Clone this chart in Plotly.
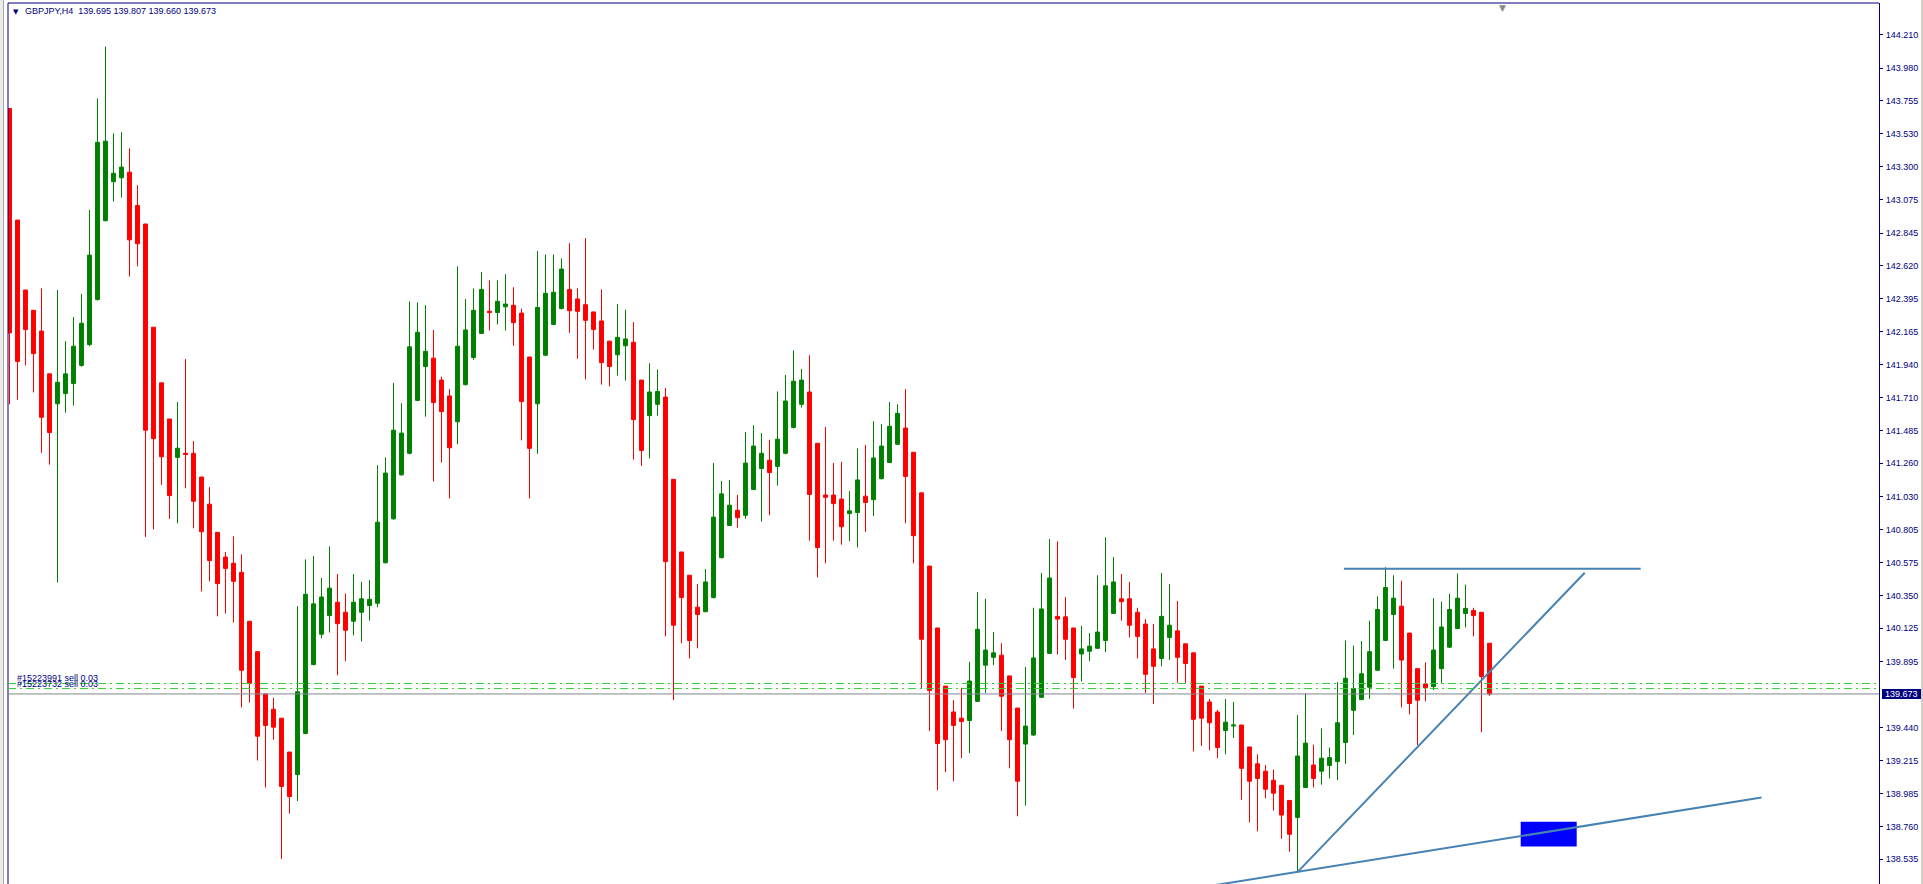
import plotly.graph_objects as go

# ---------------- data (GBPJPY, H4) ----------------
bar_index = list(range(186))

open_ = [143.702, 142.934, 142.453, 142.313, 142.170, 141.876, 141.670, 141.740, 141.810, 141.934,
         142.077, 142.387, 142.930, 143.198, 143.225, 143.264, 143.035, 142.907, 142.197, 141.814,
         141.565, 141.301, 141.329, 141.329, 141.166, 140.979, 140.785, 140.615, 140.572, 140.510,
         140.173, 139.964, 139.673, 139.568, 139.506, 139.273, 139.118, 139.401, 139.875, 140.084,
         140.212, 140.304, 140.235, 140.173, 140.235, 140.281, 140.297, 140.576, 140.878, 141.181,
         141.329, 141.693, 141.926, 141.984, 141.833, 141.724, 141.546, 141.802, 141.988, 142.154,
         142.306, 142.298, 142.337, 142.348, 142.294, 141.992, 141.670, 142.004, 142.216, 142.325,
         142.457, 142.391, 142.352, 142.302, 142.240, 142.101, 142.007, 142.069, 142.093, 141.833,
         141.588, 141.666, 141.716, 141.150, 140.650, 140.490, 140.270, 140.239, 140.336, 140.611,
         140.832, 140.937, 140.902, 141.080, 141.224, 141.282, 141.239, 141.329, 141.507, 141.666,
         141.751, 141.398, 141.042, 141.042, 141.014, 140.914, 140.921, 141.034, 141.010, 141.154,
         141.266, 141.391, 141.503, 141.336, 141.057, 140.553, 140.127, 139.727, 139.549, 139.506,
         139.490, 139.622, 139.871, 139.925, 139.940, 139.797, 139.576, 139.328, 139.390, 139.650,
         139.952, 140.207, 140.204, 140.127, 139.948, 139.967, 139.987, 140.041, 140.227, 140.328,
         140.328, 140.235, 140.154, 139.983, 139.917, 140.061, 140.107, 140.018, 139.956, 139.727,
         139.618, 139.549, 139.421, 139.452, 139.459, 139.308, 139.192, 139.141, 139.079, 139.044,
         138.940, 138.823, 139.029, 139.184, 139.141, 139.180, 139.207, 139.339, 139.560, 139.634,
         139.719, 139.836, 140.041, 140.220, 140.277, 140.092, 139.847, 139.742, 139.723, 139.847,
         139.995, 140.123, 140.227, 140.247, 140.235, 140.022]

high = [143.702, 142.934, 142.453, 142.313, 142.464, 141.876, 142.453, 142.101, 142.267, 142.426,
        143.004, 143.771, 144.128, 143.531, 143.539, 143.427, 143.174, 142.907, 142.197, 141.814,
        141.565, 141.682, 141.977, 141.414, 141.166, 141.096, 140.785, 140.650, 140.758, 140.634,
        140.173, 139.964, 139.673, 139.646, 139.506, 139.273, 140.277, 140.599, 140.622, 140.471,
        140.688, 140.498, 140.363, 140.498, 140.444, 140.456, 141.247, 141.301, 141.814, 141.674,
        142.375, 142.368, 142.348, 142.178, 141.856, 141.771, 142.616, 142.391, 142.464, 142.577,
        142.519, 142.519, 142.562, 142.472, 142.325, 141.992, 142.721, 142.697, 142.697, 142.670,
        142.775, 142.464, 142.810, 142.302, 142.457, 142.101, 142.356, 142.317, 142.232, 141.833,
        141.949, 141.906, 141.778, 141.150, 140.650, 140.490, 140.429, 140.533, 141.262, 141.139,
        141.146, 141.042, 141.476, 141.522, 141.468, 141.422, 141.755, 141.868, 142.038, 141.910,
        142.004, 141.398, 141.511, 141.262, 141.270, 141.069, 141.363, 141.387, 141.550, 141.530,
        141.682, 141.666, 141.771, 141.336, 141.057, 140.553, 140.127, 139.727, 139.630, 139.715,
        139.894, 140.374, 140.328, 140.099, 140.022, 139.797, 139.576, 139.859, 140.266, 140.506,
        140.739, 140.724, 140.340, 140.127, 140.142, 140.092, 140.490, 140.751, 140.615, 140.498,
        140.444, 140.266, 140.188, 140.154, 140.506, 140.429, 140.313, 140.018, 139.956, 139.727,
        139.638, 139.564, 139.638, 139.618, 139.459, 139.308, 139.258, 139.184, 139.153, 139.044,
        138.940, 139.529, 139.677, 139.324, 139.436, 139.304, 139.754, 140.041, 140.006, 140.037,
        140.177, 140.344, 140.545, 140.490, 140.452, 140.092, 139.847, 139.890, 140.332, 140.308,
        140.363, 140.502, 140.425, 140.266, 140.235, 140.022]

low = [141.666, 141.697, 141.934, 141.748, 141.332, 141.251, 140.440, 141.608, 141.658, 141.925,
       142.066, 142.380, 142.925, 143.062, 143.089, 142.546, 142.616, 140.754, 140.805, 141.111,
       140.878, 140.847, 141.088, 140.813, 140.378, 140.448, 140.207, 140.227, 140.165, 139.580,
       139.614, 139.215, 139.029, 139.358, 138.537, 138.850, 138.936, 139.395, 139.870, 140.057,
       140.096, 139.801, 139.898, 140.076, 140.034, 140.177, 140.270, 140.570, 140.872, 141.175,
       141.322, 141.688, 141.581, 141.135, 141.266, 141.018, 141.391, 141.795, 141.972, 142.150,
       142.174, 142.216, 142.174, 142.069, 141.418, 141.018, 141.325, 141.998, 142.210, 142.320,
       142.158, 141.980, 141.837, 142.042, 141.802, 141.790, 141.864, 141.829, 141.286, 141.243,
       141.294, 141.588, 140.069, 139.630, 140.022, 139.917, 139.987, 140.235, 140.330, 140.605,
       140.828, 140.817, 140.878, 141.075, 140.859, 140.902, 141.107, 141.322, 141.500, 141.643,
       140.727, 140.475, 140.572, 140.727, 140.700, 140.724, 140.681, 140.789, 140.898, 141.150,
       141.262, 141.388, 140.847, 140.572, 139.711, 139.417, 139.010, 139.134, 139.072, 139.231,
       139.266, 139.618, 139.680, 139.871, 139.417, 139.161, 138.831, 138.905, 139.385, 139.645,
       139.948, 139.944, 139.906, 139.572, 139.758, 139.898, 139.983, 139.960, 140.224, 140.177,
       140.061, 139.917, 139.680, 139.603, 139.863, 139.906, 139.750, 139.750, 139.277, 139.316,
       139.285, 139.231, 139.258, 139.370, 138.944, 138.789, 138.727, 138.955, 138.870, 138.676,
       138.587, 138.451, 139.025, 139.029, 139.048, 139.091, 139.079, 139.192, 139.390, 139.630,
       139.638, 139.832, 140.037, 139.847, 139.580, 139.533, 139.320, 139.622, 139.700, 139.746,
       139.990, 140.118, 140.130, 140.069, 139.409, 139.660]

close = [142.158, 141.961, 142.181, 142.015, 141.577, 141.472, 141.818, 141.876, 142.066, 142.224,
         142.693, 143.469, 143.477, 143.256, 143.299, 142.798, 142.771, 141.488, 141.430, 141.305,
         141.038, 141.364, 141.321, 140.999, 140.789, 140.591, 140.432, 140.537, 140.448, 139.836,
         139.746, 139.382, 139.456, 139.444, 139.036, 138.967, 139.688, 140.359, 140.293, 140.340,
         140.401, 140.157, 140.111, 140.304, 140.328, 140.324, 140.855, 141.193, 141.488, 141.468,
         142.062, 142.162, 142.031, 141.678, 141.616, 141.367, 142.066, 142.178, 142.313, 142.457,
         142.298, 142.375, 142.356, 142.228, 141.685, 141.363, 142.333, 142.430, 142.437, 142.597,
         142.310, 142.306, 142.244, 142.181, 141.953, 141.926, 142.127, 142.116, 141.561, 141.348,
         141.751, 141.755, 140.584, 140.146, 140.336, 140.041, 140.220, 140.444, 140.890, 141.050,
         140.972, 140.886, 141.262, 141.379, 141.329, 141.197, 141.426, 141.689, 141.825, 141.833,
         141.046, 140.681, 141.026, 140.983, 140.824, 140.933, 141.146, 140.991, 141.297, 141.379,
         141.515, 141.604, 141.170, 140.762, 140.049, 139.696, 139.332, 139.358, 139.456, 139.483,
         139.762, 140.118, 139.975, 139.956, 139.657, 139.358, 139.072, 139.452, 139.921, 140.258,
         140.471, 140.188, 140.049, 139.785, 139.983, 140.002, 140.099, 140.417, 140.444, 140.308,
         140.146, 140.069, 139.808, 139.863, 140.207, 140.146, 139.925, 139.882, 139.498, 139.506,
         139.475, 139.304, 139.479, 139.459, 139.161, 139.072, 139.091, 139.017, 138.990, 138.839,
         138.707, 139.246, 139.335, 139.091, 139.231, 139.235, 139.475, 139.781, 139.711, 139.812,
         139.964, 140.254, 140.405, 140.332, 139.906, 139.607, 139.630, 139.715, 139.975, 140.134,
         140.254, 140.332, 140.262, 140.212, 139.793, 139.673]

price_ticks = [144.210, 143.980, 143.755, 143.530, 143.300, 143.075, 142.845, 142.620, 142.395,
               142.165, 141.940, 141.710, 141.485, 141.260, 141.030, 140.805, 140.575, 140.350,
               140.125, 139.895, 139.440, 139.215, 138.985, 138.760, 138.535]
price_tick_text = ["144.210", "143.980", "143.755", "143.530", "143.300", "143.075", "142.845",
                   "142.620", "142.395", "142.165", "141.940", "141.710", "141.485", "141.260",
                   "141.030", "140.805", "140.575", "140.350", "140.125", "139.895", "139.440",
                   "139.215", "138.985", "138.760", "138.535"]

current_price = 139.673
current_price_text = "139.673"
order_prices = [139.745, 139.710]
order_labels = ["#15223991 sell 0.03", "#15223732 sell 0.03"]

trend_up_x = [161, 196.9]
trend_up_y = [138.447, 140.507]
trend_base_x = [150, 219.0]
trend_base_y = [138.351, 138.960]
resistance_x = [166.8, 203.9]
resistance_y = [140.535, 140.535]
zone_x = [188.9, 195.9]
zone_y = [138.623, 138.793]
shift_marker_x = 186.6

title_text = "GBPJPY,H4\u00a0\u00a0139.695 139.807 139.660 139.673"

# ---------------- styling ----------------
NAVY = "#000080"
GREEN = "#008000"
RED = "#FF0000"
LINE_BLUE = "#4682B4"
FONT = "Liberation Sans"

fig = go.Figure()

fig.add_trace(go.Candlestick(
    x=bar_index, open=open_, high=high, low=low, close=close,
    increasing=dict(line=dict(color=GREEN, width=1), fillcolor=GREEN),
    decreasing=dict(line=dict(color=RED, width=1), fillcolor=RED),
    whiskerwidth=0, hoverinfo="skip", showlegend=False,
))

for xs, ys in [(trend_up_x, trend_up_y), (trend_base_x, trend_base_y), (resistance_x, resistance_y)]:
    fig.add_trace(go.Scatter(x=xs, y=ys, mode="lines",
                             line=dict(color=LINE_BLUE, width=2),
                             hoverinfo="skip", showlegend=False))

shapes = []
# chart frame (top & left), right side is the price axis line
shapes.append(dict(type="line", xref="paper", yref="paper", x0=0, x1=1, y0=1, y1=1,
                   line=dict(color=NAVY, width=1)))
shapes.append(dict(type="line", xref="paper", yref="paper", x0=0, x1=0, y0=0, y1=1,
                   line=dict(color=NAVY, width=1)))
# window edges
shapes.append(dict(type="rect", xref="paper", yref="paper", x0=-8 / 1871, x1=-5 / 1871, y0=-0.01, y1=1.01,
                   fillcolor="#ececec", line=dict(width=0), layer="below"))
shapes.append(dict(type="line", xref="paper", yref="paper", x0=-4.5 / 1871, x1=-4.5 / 1871, y0=-0.01, y1=1.01,
                   line=dict(color="#a8a8a8", width=1)))
shapes.append(dict(type="rect", xref="paper", yref="paper", x0=1 + 42 / 1871, x1=1 + 46 / 1871, y0=-0.01, y1=1.01,
                   fillcolor="#d4d0c8", line=dict(width=0)))
# blue zone
shapes.append(dict(type="rect", xref="x", yref="y", x0=zone_x[0], x1=zone_x[1], y0=zone_y[0], y1=zone_y[1],
                   fillcolor="#0000FF", line=dict(width=0), layer="below"))
# order lines
for p in order_prices:
    shapes.append(dict(type="line", xref="paper", yref="y", x0=0, x1=1, y0=p, y1=p,
                       line=dict(color="#32CD32", width=1, dash="8px,4px,2px,4px")))
# current price line
shapes.append(dict(type="line", xref="paper", yref="y", x0=0, x1=1, y0=current_price, y1=current_price,
                   line=dict(color="#808890", width=1)))
# current price tag
shapes.append(dict(type="rect", xref="paper", yref="y", x0=1 + 3 / 1871, x1=1 + 42 / 1871,
                   y0=current_price - 5 / 145.3, y1=current_price + 5 / 145.3,
                   fillcolor=NAVY, line=dict(width=0)))

annotations = []
annotations.append(dict(xref="paper", yref="y", x=1, y=current_price, xshift=4, xanchor="left",
                        yanchor="middle", text=current_price_text, showarrow=False,
                        font=dict(family=FONT, size=9, color="white")))
annotations.append(dict(xref="paper", yref="paper", x=0, y=1, xshift=15, yshift=-1, xanchor="left",
                        yanchor="top", text=title_text, showarrow=False,
                        font=dict(family=FONT, size=9, color=NAVY)))
annotations.append(dict(xref="paper", yref="paper", x=0, y=1, xshift=3, yshift=-3, xanchor="left",
                        yanchor="top", text="\u25bc", showarrow=False,
                        font=dict(family="DejaVu Sans", size=7, color=NAVY)))
for p, lbl in zip(order_prices, order_labels):
    annotations.append(dict(xref="paper", yref="y", x=0, y=p, xshift=7, xanchor="left",
                            yanchor="bottom", yshift=-2, text=lbl, showarrow=False,
                            font=dict(family=FONT, size=9, color=NAVY)))
annotations.append(dict(xref="x", yref="paper", x=shift_marker_x, y=1, yshift=2, xanchor="center",
                        yanchor="top", text="\u25bc", showarrow=False,
                        font=dict(family="DejaVu Sans", size=9, color="#8a8a8a")))

fig.update_layout(
    width=1923, height=884,
    margin=dict(l=8, r=44, t=3, b=0, autoexpand=False),
    paper_bgcolor="white", plot_bgcolor="white",
    showlegend=False,
    shapes=shapes, annotations=annotations,
    xaxis=dict(range=[-0.1875, 233.6875], visible=False, showgrid=False, zeroline=False,
               rangeslider=dict(visible=False), fixedrange=True),
    yaxis=dict(range=[138.365, 144.428], side="right", tickmode="array",
               tickvals=price_ticks, ticktext=price_tick_text,
               ticks="outside", ticklen=3, tickwidth=1, tickcolor=NAVY,
               showline=True, linecolor=NAVY, linewidth=1,
               showgrid=False, zeroline=False, automargin=False, fixedrange=True,
               tickfont=dict(family=FONT, size=9, color=NAVY), ticklabelstandoff=1),
)

fig.write_html(
    "out.html",
    config={"displayModeBar": False},
    post_script="document.body.style.margin='0';document.body.style.padding='0';"
                "document.body.style.overflow='hidden';",
)
